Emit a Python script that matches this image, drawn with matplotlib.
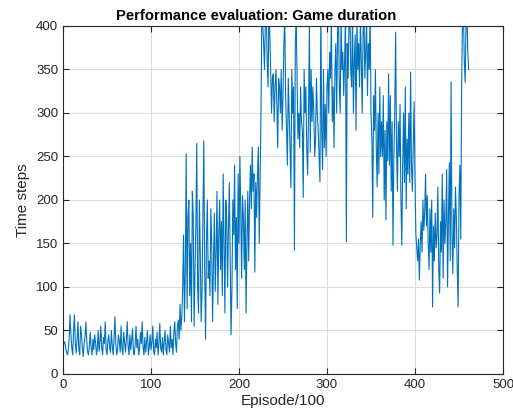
import numpy as np
import matplotlib
matplotlib.use("Agg")
import matplotlib.pyplot as plt

# Game duration per evaluation point (values > 400 clip at the top)
early = [35, 37, 30, 25, 22, 28, 40, 68, 45, 30, 22, 50, 68, 35, 24, 40, 60, 28, 22, 55,
         45, 30, 20, 35, 42, 60, 38, 25, 22, 33, 48, 30, 22, 40, 28, 45, 36, 22, 30, 50,
         26, 38, 55, 30, 22, 42, 35, 60, 28, 22, 38, 45, 30, 25, 50, 32, 22, 40, 66, 35,
         22, 28, 45, 38, 25, 55, 30, 22, 48, 36, 25, 40, 60, 32, 22, 45, 28, 38, 52, 25,
         22, 35, 55, 30, 40, 22, 28, 48, 35, 60, 30, 22, 42, 25, 38, 50, 22, 30, 45, 28,
         36, 55, 25, 22, 40, 30, 48, 22, 35, 58, 30, 25, 42, 22, 38, 50, 28, 22, 45, 35,
         25, 55, 30, 40, 22, 48, 60, 35, 25, 55, 62, 40, 80, 50, 65]
learning = [100, 160, 60, 120, 253, 75, 180, 200, 90, 150, 60, 210, 180, 55, 120, 170,
            265, 100, 70, 200, 140, 60, 95, 180, 268, 120, 40, 150, 200, 110, 130, 90,
            190, 150, 60, 130, 185, 95, 140, 210, 80, 160, 200, 120, 175, 90, 230, 150,
            70, 200, 180, 100, 165, 220, 130, 45, 100, 200, 160, 240, 120, 180, 75, 230,
            150, 250, 190, 110, 205]
rise = [180, 120, 200, 70, 150, 210, 130, 200, 240, 190, 261, 210, 230, 117, 220, 180,
        230, 261, 150, 230, 300, 420]
plateau = [400, 380, 350, 410, 420, 360, 330, 420, 390, 350,
           300, 340, 345, 290, 330, 350, 310, 260, 340, 330,
           300, 350, 280, 320, 380, 410, 320, 280, 240, 340, 300, 260,
           214, 350, 300, 330, 142,
           380, 410, 340, 270, 300, 260, 330, 290, 280, 203,
           350, 300, 330, 260, 229,
           300, 400, 255, 350, 290, 330, 300, 250, 270, 340, 300, 280, 250, 221,
           420, 280, 235, 350, 260, 310, 250, 330, 350, 300,
           370, 340, 410, 290, 330, 260, 350, 380, 300, 390,
           420, 330, 300, 410, 350, 370, 320, 360, 410, 152,
           380, 340, 400, 420, 350, 330, 420, 300, 360, 390,
           280, 410, 350, 380, 330, 410, 360, 300, 390, 420,
           340, 370, 410, 320, 380, 350, 420]
decline = [300, 270, 180, 320, 280, 350, 260, 215, 300, 230, 330, 250, 290, 250, 320,
           200, 280, 177, 290, 245, 345, 240, 320, 210, 290, 148, 250, 300, 393, 260,
           210, 290, 250, 310, 200, 148, 240, 300, 220, 330, 190, 270, 230, 300, 220,
           347, 240, 210, 260, 313, 225]
dip = [160, 145, 130, 155, 108, 150, 175, 140, 200, 165, 185, 230, 170, 205, 150, 120,
       190, 140, 200, 77, 170, 130, 185, 145, 160, 215, 120, 93, 175, 140, 230, 110,
       200, 150, 175, 235, 100, 180, 243, 130, 336, 160, 115, 190, 145, 215, 180, 120,
       77, 205, 240, 155]
recovery = [330, 410, 420, 360, 335, 400, 420, 370, 350]

steps = early + learning + rise + plateau + decline + dip + recovery
episodes = np.arange(1, len(steps) + 1)

plt.rcParams['font.family'] = ['Liberation Sans', 'DejaVu Sans']

fig = plt.figure(figsize=(5.13, 4.16), dpi=100)
ax = fig.add_axes([0.1228, 0.101, 0.8577, 0.8365])

ax.plot(episodes, steps, color="#0072BD", linewidth=0.8)

ax.set_xlim(0, 500)
ax.set_ylim(0, 400)
ax.set_xticks(range(0, 501, 100))
ax.set_yticks(range(0, 401, 50))
ax.grid(True, color="#dcdcdc", linewidth=0.8)
ax.set_axisbelow(True)
ax.tick_params(direction="in", top=True, right=True, labelsize=9.5, length=4,
               color="#262626", labelcolor="#262626")
for spine in ax.spines.values():
    spine.set_color("#262626")
    spine.set_linewidth(0.8)

ax.set_xlabel("Episode/100", fontsize=11, color="#262626", labelpad=2)
ax.set_ylabel("Time steps", fontsize=11, color="#262626", labelpad=4)
# title sits a little left of the axes centre in the reference
ax.set_title("Performance evaluation: Game duration", fontsize=10.6, fontweight="bold",
             x=0.439, pad=4)

fig.savefig("out.png", dpi=100, facecolor="white")
